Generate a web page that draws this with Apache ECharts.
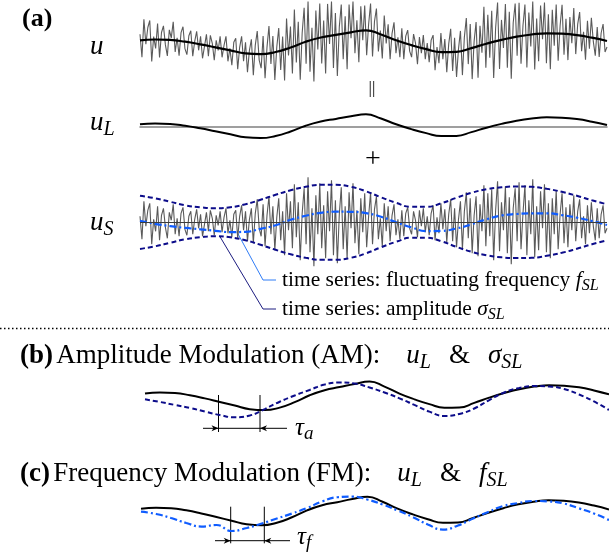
<!DOCTYPE html>
<html>
<head>
<meta charset="utf-8">
<script src="https://cdn.jsdelivr.net/npm/echarts@6.0.0/dist/echarts.min.js"></script>
<style>html,body{margin:0;padding:0;background:#fff}#main{width:609px;height:554px}</style>
</head>
<body>
<div id="main"></div>
<script>
// large-scale signal u_L, 32 samples over the record
const uL = [2.2, 3.0, 2.6, 0.8, -1.8, -4.8, -7.8, -10.8, -11.6, -9.5, -5.0, 0.8, 5.0, 7.6, 10.2, 12.2,
  8.0, 2.2, -2.6, -6.6, -9.6, -9.4, -5.6, -1.2, 2.6, 5.8, 8.0, 9.2, 8.8, 7.4, 4.8, 1.5];
// amplitude envelope sigma_SL (panel a)
const sigmaSL = [26.6, 24, 20.5, 17, 15, 14, 15, 18, 22.5, 27.5, 32, 35.5, 37.5, 37.5, 35.5, 31,
  25, 19.5, 15.5, 15.5, 19, 24.5, 29.5, 33, 35, 35.8, 35.5, 33.5, 30.5, 26.5, 22, 18];
// fluctuating frequency f_SL (panel a)
const fSL = [1.6, -1.5, -3.8, -5.6, -7, -8.5, -9.8, -9.5, -6.5, -3, 2.5, 6.5, 9.5, 10.6, 10.5, 9.2,
  5.5, 0, -5, -8.8, -8.6, -6.2, -2, 3, 6.8, 8.3, 8.9, 9, 7.2, 4.6, 1.3, -2.7];
// sigma_SL as sketched in panel (b)
const sigmaB = [-2.6, -4.8, -7.3, -9.8, -12.8, -15.7, -17.6, -16.1, -10.7, -4.6, 0.6, 5.2, 9.75, 11.4, 10.6, 7.25,
  3.1, -1.75, -7.3, -12.9, -16.5, -14.8, -10.25, -3.2, 3.1, 6.8, 8.5, 8.1, 6, 1.4, -4.4, -11.5];
// f_SL as sketched in panel (c)
const fC = [-0.3, -2.25, -5.6, -9.75, -12.7, -11.4, -16.4, -13.9, -10.2, -6, -1.85, 2.75, 8.2, 11.7, 12.3, 9.8,
  5.7, 0.7, -4.75, -11, -15.2, -11.8, -6, -0.6, 4.4, 6.9, 8.6, 8.2, 6.5, 2.5, -1.8, -7.25];
// raw signal u (240 samples)
const uRaw = [8.2, -14.8, 23.2, -1.8,
  15, 22, -19, 6, -6, 19, -15, 10,
  16.6, -2.4, -13.4, 12.6, 4.6, 20.6, -9.4,
  4.8, -13.2, 9.8, 15.8, -6.2, -12.2, 6.8, 11.8,
  -13.8, 1.2, 11.2, -7.8, 6.2, -15.8, -3.8, 8.2,
  -13.8, 7.2, -0.8, -17.8, 2.2, -7.8, 6.2, -14.8,
  -2.8, 6.2, -18.8, -5.8, -22.8, 0.2, 4.2,
  -26.8, -4.8, 6.2, -18.8, 0.2, -29.8, -7.8, 3.2,
  -32.6, -2.6, 11.4, -17.6, -25.6, 6.4, -35.6, -4.6,
  16.5, -21.5, 6.5, -37.5, -4.5, 14.5, -27.5,
  6, -38, 24, -13, 16, -31, 33, -20,
  20.8, -37.2, 9.8, 34.8, -21.2, 41, -29.2, 14.8,
  -39, 32, -7, 39, -21, 22, -31,
  38.6, -1.4, 41, -25.4, 29.6, -33.4, 15.6, 38,
  -16.8, 26.2, -26.8, 38, 4.2, 41, -10.8, 22.2,
  -19.8, 36.2, 2.2, 37, -12.8, 18.2, 39,
  -14, 21, 34, -9, 12, -16, 27, -1,
  18.2, -16.8, 9.2, 20.2, -10.8, 5.2, -14.8, 14.2,
  -16.6, 6.4, 12.4, -8.6, -14.6, 8.4, -0.6,
  -21.6, 5.4, -10.6, 7.4, -16.6, -0.6, -19.6, 2.4,
  7.4, -27.6, -4.6, -20.6, 9.4, -16.6, 3.4, -29.6,
  -1.4, 13.6, -28.4, 4.6, -34.4, -6.4, 11.6,
  -32.6, 5.4, 24.4, -21.6, 18.4, -36.6, 1.4, 20.4,
  -35.2, 16.8, -10.2, 35.8, -25.2, 27.8, -15.2, 31.8,
  -35.4, 14.6, 40, -26.4, 22.6, -5.4, 38.6,
  -25.2, 30.8, -36.2, 19.8, 39, -13.2, 39.8, -21.2,
  17, 38, -25, 30, -4, 41, -27, 24,
  -18.8, 37, 3.2, 40, -20.8, 28.2, -26.8,
  32.8, -3.2, 38, -18.2, 16.8, 37.8, -12.2, 23.8,
  -17.6, 25.4, -0.6, 34.4, -11.6, 18.4, 30.4, -8.6,
  10.8, -17.2, 21.8, -6.2, 24.8, 0.8, -13.2,
  15.5, -14.5, 9.5, 18.5, -9.5, -4.5];
// small-scale signal u_S (240 samples)
const uS = [6, -17, 21, -4,
  12, 19, -22, 3, -9, 16, -18, 7,
  14, -5, -16, 10, 2, 18, -12,
  4, -14, 9, 15, -7, -13, 6, 11,
  -12, 3, 13, -6, 8, -14, -2, 10,
  -9, 12, 4, -13, 7, -3, 11, -10,
  5, 14, -11, 2, -15, 8, 12,
  -16, 6, 17, -8, 11, -19, 3, 14,
  -21, 9, 23, -6, -14, 18, -24, 7,
  26, -12, 16, -28, 5, 24, -18,
  11, -33, 29, -8, 21, -26, 38, -15,
  20, -38, 9, 34, -22, 45, -30, 14,
  -44, 27, -12, 39, -26, 17, -36,
  31, -9, 42, -33, 22, -41, 8, 35,
  -27, 16, -37, 30, -6, 39, -21, 12,
  -32, 24, -10, 29, -25, 6, 30,
  -22, 13, 26, -17, 4, -24, 19, -9,
  16, -19, 7, 18, -13, 3, -17, 12,
  -14, 9, 15, -6, -12, 11, 2,
  -15, 12, -4, 14, -10, 6, -13, 9,
  17, -18, 5, -11, 19, -7, 13, -20,
  8, 23, -19, 14, -25, 3, 21,
  -27, 11, 30, -16, 24, -31, 7, 26,
  -34, 18, -9, 37, -24, 29, -14, 33,
  -38, 12, 41, -29, 20, -8, 36,
  -31, 25, -42, 14, 34, -19, 40, -27,
  9, 37, -33, 22, -12, 43, -35, 16,
  -28, 31, -6, 38, -30, 19, -36,
  24, -12, 32, -27, 8, 29, -21, 15,
  -25, 18, -8, 27, -19, 11, 23, -16,
  6, -22, 17, -11, 20, -4, -18,
  14, -16, 8, 17, -11, -6];

const FONT = '"Liberation Serif", "DejaVu Serif", serif';
const NAVY = '#0c0c8a';
const BLUE = '#0f5cff';
const GRAY = '#5a5a5a';

const xy = arr => arr.map((v, i) => [i / (arr.length - 1), v]);
const neg = arr => arr.map(v => -v);

var myChart = echarts.init(document.getElementById('main'));

const grids = [
  { left: 140, right: 2, top: 0, height: 85 },      // u
  { left: 140, right: 2, top: 96.5, height: 60 },   // u_L
  { left: 140, right: 2, top: 172.3, height: 100 }, // u_S
  { left: 145, right: 0, top: 372.2, height: 48 },  // (b)
  { left: 141, right: 0, top: 487.3, height: 48 }   // (c)
];
const yr = [42.5, 30, 50, 20, 20];

const xAxes = grids.map((g, i) => ({
  gridIndex: i, type: 'value', min: 0, max: 1,
  show: i === 1,
  axisLine: { onZero: true, lineStyle: { color: '#808080', width: 1.5 } },
  axisTick: { show: false }, axisLabel: { show: false }, splitLine: { show: false }
}));
const yAxes = grids.map((g, i) => ({
  gridIndex: i, type: 'value', min: -yr[i], max: yr[i], show: false
}));

function line(grid, data, color, width, type, smooth) {
  return {
    type: 'line', xAxisIndex: grid, yAxisIndex: grid, data: xy(data),
    showSymbol: false, smooth: smooth, clip: false, silent: true,
    lineStyle: { color: color, width: width, type: type || 'solid' }
  };
}

const series = [
  line(0, uRaw, GRAY, 1.1, 'solid', false),
  line(0, uL, '#000', 2.2, 'solid', 0.5),
  line(1, uL, '#000', 2, 'solid', 0.5),
  Object.assign(line(2, uS, GRAY, 1.1, 'solid', false), {
    markLine: {
      silent: true, symbol: ['none', 'none'], label: { show: false },
      lineStyle: { color: '#3c3c3c', width: 1, type: 'solid' },
      data: [{ yAxis: 0 }]
    }
  }),
  line(2, sigmaSL, NAVY, 2, [5, 3], 0.5),
  line(2, neg(sigmaSL), NAVY, 2, [5, 3], 0.5),
  line(2, fSL, BLUE, 2.2, [7, 3, 2, 3], 0.5),
  line(3, uL, '#000', 2, 'solid', 0.5),
  line(3, sigmaB, NAVY, 2, [5, 3], 0.5),
  line(4, uL, '#000', 2, 'solid', 0.5),
  line(4, fC, BLUE, 2.2, [7, 3, 2, 3], 0.5)
];

// rich-text styles for the math labels
function rich(size, sub) {
  const ss = Math.round(size * sub);
  return {
    r: { fontFamily: FONT, fontSize: size, lineHeight: size + 6, fill: '#000' },
    b: { fontFamily: FONT, fontSize: size, fontWeight: 'bold', lineHeight: size + 6, fill: '#000' },
    m: { fontFamily: FONT, fontSize: size, fontStyle: 'italic', lineHeight: size + 6, fill: '#000' },
    s: { fontFamily: FONT, fontSize: ss, fontStyle: 'italic', lineHeight: ss + 2, verticalAlign: 'bottom', fill: '#000' },
    g: { fontFamily: FONT, fontSize: size, lineHeight: size + 6, width: 26 },
    g2: { fontFamily: FONT, fontSize: size, lineHeight: size + 6, width: 18 }
  };
}
function txt(x, y, text, size, align, sub) {
  return {
    type: 'text', x: x, y: y, silent: true,
    style: { text: text, rich: rich(size, sub || 0.75), align: align || 'left', verticalAlign: 'middle', fill: '#000' }
  };
}
function seg(pts, color, w, dash) {
  return {
    type: 'polyline', silent: true, shape: { points: pts },
    style: { stroke: color, lineWidth: w, fill: null, lineDash: dash || null }
  };
}
function arrow(x, y, dir) {
  return {
    type: 'polygon', silent: true,
    shape: { points: [[x, y], [x - 7 * dir, y - 3], [x - 5 * dir, y], [x - 7 * dir, y + 3]] },
    style: { fill: '#000' }
  };
}

const graphic = [
  txt(22, 19, '{b|(a)}', 26),
  txt(90, 47, '{m|u}', 27),
  txt(90, 123, '{m|u}{s|L}', 27),
  txt(372, 89, '{r|||}', 17, 'center'),
  txt(373, 160, '{r|+}', 28, 'center'),
  txt(90, 223, '{m|u}{s|S}', 27),
  seg([[220, 236.7], [263, 309], [276, 309]], '#1c1c80', 1),
  seg([[237, 232], [263, 280], [276, 280]], '#2f7cf6', 1),
  txt(282, 280, '{r|time series: fluctuating frequency }{m|f}{s|SL}', 21.5),
  txt(282, 309, '{r|time series: amplitude }{m|σ}{s|SL}', 21.5),
  seg([[0, 328.5], [609, 328.5]], '#000', 1.5, [1.5, 2.5]),
  txt(20, 356, '{b|(b)} {r|Amplitude Modulation (AM):}{g|}{m|u}{s|L}{g2|}{r|&}{g2|}{m|σ}{s|SL}', 27),
  seg([[218.5, 395], [218.5, 432]], '#000', 1),
  seg([[260, 395], [260, 432]], '#000', 1),
  seg([[203, 428.3], [287, 428.3]], '#000', 1),
  arrow(218.5, 428.3, 1), arrow(260, 428.3, -1),
  txt(295, 428, '{m|τ}{s|a}', 25),
  txt(20, 474, '{b|(c)} {r|Frequency Modulation (FM):}{g|}{m|u}{s|L}{g2|}{r|&}{g2|}{m|f}{s|SL}', 27),
  seg([[230.7, 506.7], [230.7, 543.3]], '#000', 1),
  seg([[264.3, 506.7], [264.3, 543.3]], '#000', 1),
  seg([[215, 540.7], [290, 540.7]], '#000', 1),
  arrow(230.7, 540.7, 1), arrow(264.3, 540.7, -1),
  txt(297, 537, '{m|τ}{s|f}', 25)
];

myChart.setOption({
  backgroundColor: '#fff',
  animation: false,
  grid: grids,
  xAxis: xAxes,
  yAxis: yAxes,
  series: series,
  graphic: graphic
});
</script>
</body>
</html>
